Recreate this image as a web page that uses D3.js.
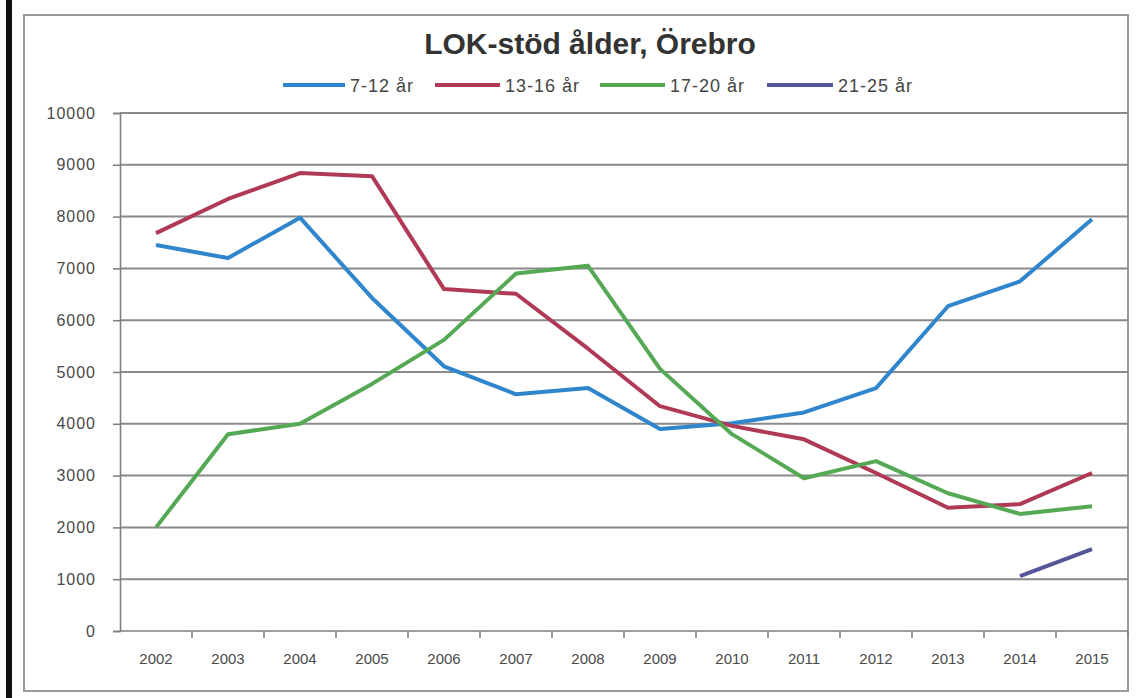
<!DOCTYPE html>
<html lang="sv">
<head>
<meta charset="utf-8">
<title>LOK-stöd ålder, Örebro</title>
<script src="https://d3js.org/d3.v7.min.js"></script>
<style>
    body { margin: 0; background: #fff; }
    .grid line { stroke: #8a8a8a; stroke-width: 2px; }
    .axis path, .axis line { stroke: #808080; stroke-width: 1.6px; }
    .axis text { fill: #4a4a4a; font-family: "Liberation Sans", Arial, sans-serif; }
    .serie { fill: none; stroke-width: 4px; stroke-linejoin: round; }
</style>
</head>
<body>
<div id="chart"></div>
<script>
    // data
    var years = ["2002", "2003", "2004", "2005", "2006", "2007", "2008",
                 "2009", "2010", "2011", "2012", "2013", "2014", "2015"];
    var age7_12  = [7450, 7200, 7980, 6430, 5110, 4570, 4690, 3900, 4010, 4220, 4690, 6270, 6750, 7950];
    var age13_16 = [7680, 8340, 8840, 8780, 6600, 6510, 5450, 4340, 3960, 3700, 3050, 2380, 2450, 3050];
    var age17_20 = [2000, 3800, 4000, 4770, 5620, 6900, 7050, 5060, 3800, 2950, 3280, 2660, 2260, 2410];
    var age21_25 = [null, null, null, null, null, null, null, null, null, null, null, null, 1060, 1580];
    var seriesNames = ["7-12 år", "13-16 år", "17-20 år", "21-25 år"];
    var yTicks = [0, 1000, 2000, 3000, 4000, 5000, 6000, 7000, 8000, 9000, 10000];

    var colors = ["#2f86cc", "#b03a55", "#55a955", "#55559a"];
    var allSeries = [age7_12, age13_16, age17_20, age21_25];

    var width = 1142, height = 698;
    var margin = {left: 120, right: 14, top: 113, bottom: 67};

    var svg = d3.select("#chart").append("svg")
        .attr("width", width)
        .attr("height", height);

    // photo frame bits
    svg.append("rect").attr("x", 6).attr("y", 0).attr("width", 6).attr("height", height).attr("fill", "#111");
    svg.append("rect").attr("x", 24).attr("y", 15).attr("width", 1104).attr("height", 676)
        .attr("fill", "none").attr("stroke", "#9a9a9a").attr("stroke-width", 2);

    var x = d3.scaleBand()
        .domain(years)
        .range([margin.left, width - margin.right])
        .padding(0);

    var y = d3.scaleLinear()
        .domain([0, 10000])
        .range([height - margin.bottom, margin.top]);

    // gridlines
    svg.append("g")
        .attr("class", "grid")
        .selectAll("line")
        .data(yTicks.slice(1))
        .enter().append("line")
        .attr("x1", margin.left)
        .attr("x2", width - margin.right)
        .attr("y1", function(d) { return y(d); })
        .attr("y2", function(d) { return y(d); });

    // y axis
    var yAxis = svg.append("g")
        .attr("class", "axis")
        .attr("transform", "translate(" + margin.left + ",0)")
        .call(d3.axisLeft(y).tickValues(yTicks).tickSize(7).tickPadding(17).tickFormat(d3.format("d")));
    yAxis.selectAll("text").style("font-size", "16px").style("letter-spacing", "1px");

    // x axis, ticks between categories
    var xAxis = svg.append("g")
        .attr("class", "axis")
        .attr("transform", "translate(0," + y(0) + ")")
        .call(d3.axisBottom(x).tickSize(0).tickPadding(22));
    xAxis.selectAll("text").style("font-size", "15px");
    xAxis.select(".domain").remove();
    xAxis.append("line")
        .attr("x1", margin.left).attr("x2", width - margin.right)
        .attr("stroke", "#808080").attr("stroke-width", 1.6);
    xAxis.selectAll(".sep")
        .data(years)
        .enter().append("line")
        .attr("class", "sep")
        .attr("x1", function(d) { return x(d) + x.bandwidth(); })
        .attr("x2", function(d) { return x(d) + x.bandwidth(); })
        .attr("y1", 0).attr("y2", 7);

    // lines
    var line = d3.line()
        .defined(function(d) { return d != null; })
        .x(function(d, i) { return x(years[i]) + x.bandwidth() / 2; })
        .y(function(d) { return y(d); });

    svg.selectAll(".serie")
        .data(allSeries)
        .enter().append("path")
        .attr("class", "serie")
        .attr("stroke", function(d, i) { return colors[i]; })
        .attr("d", line);

    // title
    svg.append("text")
        .attr("x", 590).attr("y", 54)
        .attr("text-anchor", "middle")
        .style("font-family", "'Liberation Sans', Arial, sans-serif")
        .style("font-weight", "bold")
        .style("font-size", "30px")
        .attr("fill", "#333")
        .text("LOK-stöd ålder, Örebro");

    // legend
    var legendX = [283, 435, 600, 767];
    var legendLen = [62, 65, 65, 66];
    var legend = svg.append("g").selectAll("g")
        .data(seriesNames)
        .enter().append("g")
        .attr("transform", function(d, i) { return "translate(" + legendX[i] + ",85)"; });
    legend.append("line")
        .attr("x1", 0).attr("x2", function(d, i) { return legendLen[i]; })
        .attr("stroke", function(d, i) { return colors[i]; })
        .attr("stroke-width", 4);
    legend.append("text")
        .attr("x", function(d, i) { return legendLen[i] + 5; }).attr("y", 7)
        .style("font-family", "'Liberation Sans', Arial, sans-serif")
        .style("font-size", "18px")
        .style("letter-spacing", "1px")
        .attr("fill", "#444")
        .text(function(d) { return d; });
</script>
</body>
</html>
